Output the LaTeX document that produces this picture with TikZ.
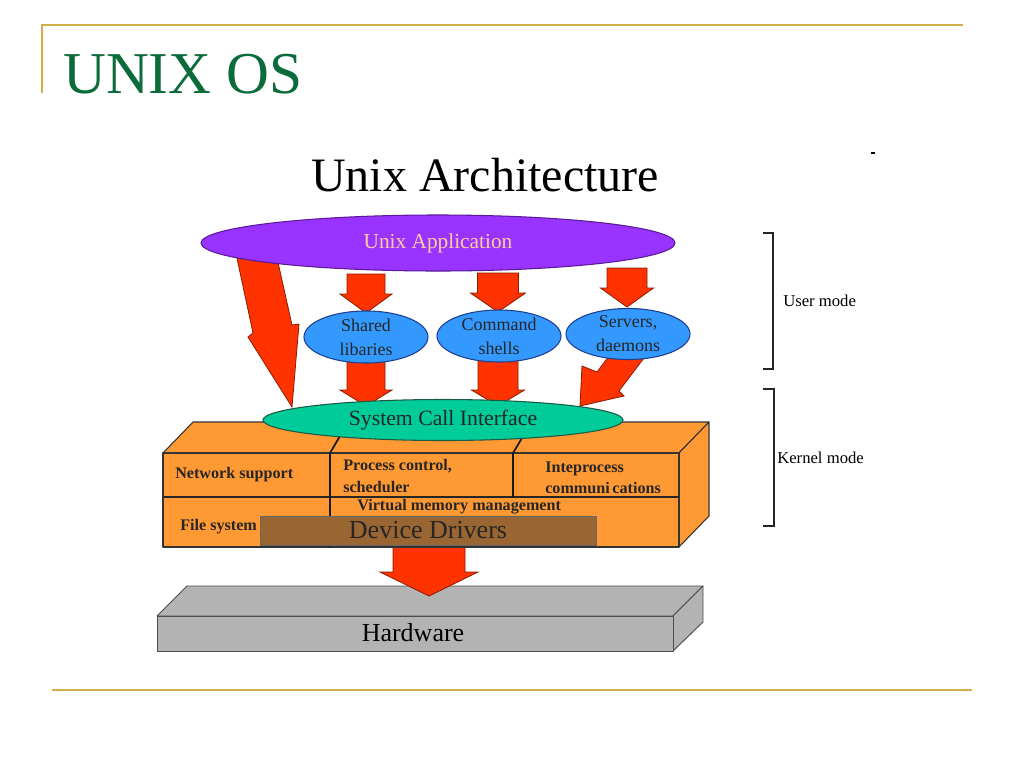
\documentclass[tikz,border=0pt]{standalone}
\usepackage{fontspec}
\setmainfont{Liberation Serif}
\usetikzlibrary{shapes.geometric}
\definecolor{gold}{HTML}{D4B04A}
\definecolor{titlegreen}{HTML}{0B6B3A}
\definecolor{apppurple}{HTML}{9933FF}
\definecolor{appedge}{HTML}{5A1A99}
\definecolor{apptext}{HTML}{FFCC99}
\definecolor{libblue}{HTML}{3399FF}
\definecolor{libedge}{HTML}{1F3F8F}
\definecolor{scigreen}{HTML}{00CC99}
\definecolor{sciedge}{HTML}{1C5A45}
\definecolor{kernorange}{HTML}{FF9933}
\definecolor{arrowred}{HTML}{FF3300}
\definecolor{arrowedge}{HTML}{8A1A00}
\definecolor{drvbrown}{HTML}{996633}
\definecolor{hwgray}{HTML}{B3B3B3}
\tikzset{
  goldline/.style={draw=gold, line width=1.5pt},
  blockarrow/.style={fill=arrowred, draw=arrowedge, line width=0.6pt, line join=miter},
  oval/.style={ellipse, inner sep=0pt, line width=0.8pt},
  kbox/.style={fill=kernorange, draw=black!80, line width=0.8pt, line join=round},
  hwbox/.style={fill=hwgray, draw=black!70, line width=0.7pt, line join=round},
  ktext/.style={font=\fontsize{12.1}{13}\selectfont\bfseries, inner sep=0pt, text=black!85},
  modetext/.style={font=\fontsize{12.5}{14}\selectfont, inner sep=0pt, anchor=west},
  bracket/.style={draw=black!85, line width=1.4pt},
  libtext/.style={font=\fontsize{13.5}{18}\selectfont, align=center, text=black!85}
}
\newcommand\downblock[7]{% cx, ytop, yhead, ytip, shafthalf, headhalf, name
  \draw[blockarrow] ({#1-#5},#2) coordinate (#7-top) -- ({#1+#5},#2) -- ({#1+#5},#3) -- ({#1+#6},#3)
    -- (#1,#4) coordinate (#7-tip) -- ({#1-#6},#3) -- ({#1-#5},#3) -- cycle;}
\begin{document}
\begin{tikzpicture}[x=0.75pt,y=-0.75pt]
\useasboundingbox[fill=white] (0,0) rectangle (1024,768);

% slide decoration
\coordinate (gl1) at (42,25);
\coordinate (gl2) at (963,25);
\coordinate (gl3) at (42,93);
\draw[goldline] (gl3) -- (gl1) -- (gl2);
\coordinate (gb1) at (52,690);
\coordinate (gb2) at (972,690);
\draw[goldline] (gb1) -- (gb2);
\node[anchor=base west, inner sep=0pt, text=titlegreen, font=\fontsize{44.5}{48}\selectfont] (title) at (63,93) {UNIX OS};
\node[anchor=base, inner sep=0pt, font=\fontsize{36}{40}\selectfont] (arch) at (485,191) {Unix Architecture};
\coordinate (d1) at (871,153);
\coordinate (d2) at (875,153);
\draw[line width=0.8pt] (d1) -- (d2);

% big slanted arrows (drawn under the ellipses)
\draw[blockarrow] (232,235) coordinate (la-top) -- (273,240) -- (292,325) -- (299,324)
   -- (292,407) coordinate (la-tip) -- (248,337) -- (253,333) -- cycle;
\draw[blockarrow] (615,348) coordinate (ra-top) -- (650,350) -- (619,391) -- (624,396)
   -- (580,406) coordinate (ra-tip) -- (582,366) -- (597,372) -- cycle;

% application ellipse
\node[oval, fill=apppurple, draw=appedge, minimum width=355.5pt, minimum height=42pt,
      text=apptext, font=\fontsize{16}{18}\selectfont] (app) at (438,243) {Unix Application};

% arrows from application to libraries
\downblock{366}{274}{294}{313}{19}{26}{a1}
\downblock{498}{273}{293}{312}{20.5}{27.5}{a2}
\downblock{627}{268}{288}{307}{20}{26.5}{a3}

% lower arrows
\downblock{366}{358}{390}{406}{19}{26}{b1}
\downblock{498}{358}{390}{406}{20}{26.5}{b2}

% library ellipses
\node[oval, fill=libblue, draw=libedge, minimum width=93pt, minimum height=39pt, libtext] (shared) at (366,337) {Shared\\libaries};
\node[oval, fill=libblue, draw=libedge, minimum width=93pt, minimum height=39pt, libtext] (shells) at (499,336) {Command\\shells};
\node[oval, fill=libblue, draw=libedge, minimum width=93pt, minimum height=36pt, libtext] (servers) at (628,334) {Servers,\\daemons};

% hardware slab
\coordinate (hw-fl) at (157,616);
\coordinate (hw-fr) at (673,616);
\coordinate (hw-bl) at (187,586);
\coordinate (hw-br) at (703,586);
\coordinate (hw-brb) at (703,622);
\coordinate (hw-frb) at (673,651);
\coordinate (hw-flb) at (157,651);
\draw[hwbox] (hw-fl) -- (hw-bl) -- (hw-br) -- (hw-fr) -- cycle;
\draw[hwbox] (hw-fr) -- (hw-br) -- (hw-brb) -- (hw-frb) -- cycle;
\draw[hwbox] (hw-fl) rectangle (hw-frb);
\node[font=\fontsize{19.5}{22}\selectfont, inner sep=0pt] (hw) at (413,633) {Hardware};

% arrow kernel -> hardware
\downblock{429}{540}{572}{596}{36}{49}{c1}

% kernel box
\coordinate (k-fl) at (163,453);
\coordinate (k-fr) at (679,453);
\coordinate (k-bl) at (193,422);
\coordinate (k-br) at (709,422);
\coordinate (k-brb) at (709,516);
\coordinate (k-frb) at (679,547);
\draw[kbox] (k-fl) -- (k-bl) -- (k-br) -- (k-fr) -- cycle;
\draw[kbox] (k-fr) -- (k-br) -- (k-brb) -- (k-frb) -- cycle;
\draw[kbox] (k-fl) rectangle (k-frb);
\coordinate (k-ml) at (163,497);
\coordinate (k-mr) at (679,497);
\draw[line width=0.9pt, black!85] (k-ml) -- (k-mr);
\coordinate (v1t) at (340,436);
\coordinate (v1m) at (330,453);
\coordinate (v1b) at (330,547);
\coordinate (v2t) at (522,438);
\coordinate (v2m) at (513,453);
\coordinate (v2b) at (513,497);
\draw[line width=1.3pt, black!90] (v1t) -- (v1m) -- (v1b);
\draw[line width=1.3pt, black!90] (v2t) -- (v2m) -- (v2b);

% system call interface
\node[oval, fill=scigreen, draw=sciedge, minimum width=270pt, minimum height=30.75pt,
      font=\fontsize{16.3}{18}\selectfont, text=black!85] (sci) at (443,420) {System Call Interface};

% kernel texts
\node[ktext, anchor=base west] (net) at (175,478) {Network support};
\node[ktext, anchor=base west] (proc1) at (343,470) {Process control,};
\node[ktext, anchor=base west] (proc2) at (343,492) {scheduler};
\node[ktext, anchor=base west] (ipc1) at (545,472) {Inteprocess};
\node[ktext, anchor=base west] (ipc2) at (545,493) {communi\,cations};
\node[ktext, anchor=base west] (vmm) at (357,510) {Virtual memory management};
\node[ktext, anchor=base west] (fs) at (180,530) {File system};

% device drivers
\node[fill=drvbrown, draw=black!60, line width=0.6pt, minimum width=252pt, minimum height=21.75pt,
      inner sep=0pt, font=\fontsize{19.5}{22}\selectfont, text=black!85] (drv) at (428,530.5) {Device Drivers};

% mode brackets
\coordinate (u1) at (763,233);
\coordinate (u2) at (773,233);
\coordinate (u3) at (773,369);
\coordinate (u4) at (763,369);
\draw[bracket] (u1) -- (u2) -- (u3) -- (u4);
\coordinate (k1) at (763,389);
\coordinate (k2) at (774,389);
\coordinate (k3) at (774,526);
\coordinate (k4) at (763,526);
\draw[bracket] (k1) -- (k2) -- (k3) -- (k4);
\node[modetext] (user) at (783,301) {User mode};
\node[modetext] (kern) at (777,458) {Kernel mode};
\end{tikzpicture}
\end{document}
